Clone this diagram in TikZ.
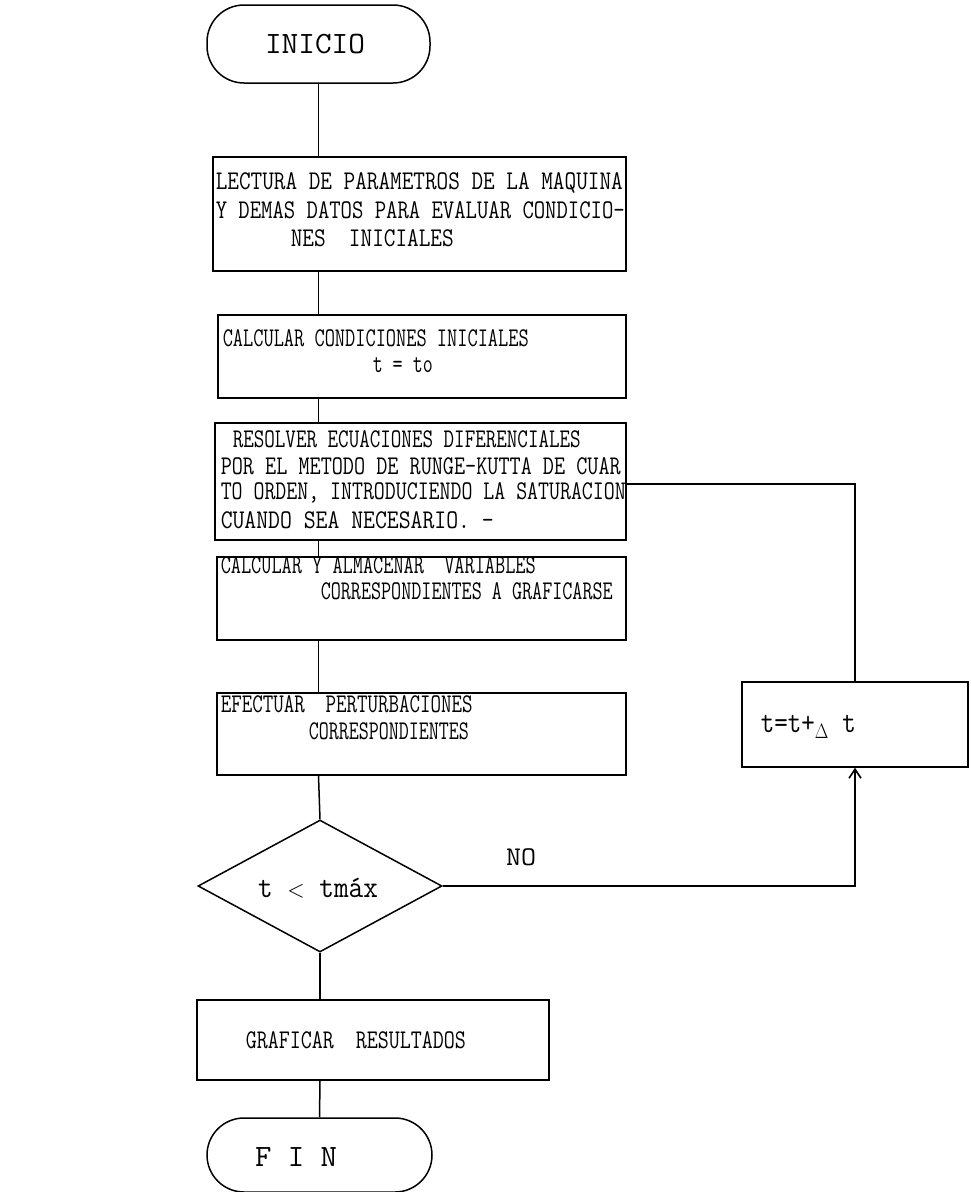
\documentclass[tikz,border=0pt]{standalone}
\usetikzlibrary{shapes.geometric,arrows.meta}
\usepackage{graphicx}
\newcommand\fitline[2]{\resizebox{#1pt}{\height}{#2}}
\begin{document}
\begin{tikzpicture}[x=1pt,y=-1pt,
  line width=1.5pt,
  txt/.style={font=\fontsize{27}{30}\selectfont\ttfamily,inner sep=0pt,anchor=west},
  bigtxt/.style={font=\fontsize{31}{34}\selectfont\ttfamily,inner sep=0pt},
  boxnode/.style={draw,line width=1.5pt,inner sep=0pt},
  term/.style={draw,line width=1.5pt,inner sep=0pt,rounded corners=37pt},
  decision/.style={draw,line width=1.5pt,diamond,inner sep=0pt},
  conn/.style={line width=1.5pt},
  arr/.style={line width=1.5pt,-{Straight Barb[length=9pt,width=12pt,line width=1.6pt]}}]
\useasboundingbox (0,0) rectangle (970,1192);
% terminals
\node[term,minimum width=223pt,minimum height=78pt] (ini) at (318.5,44) {};
\node[bigtxt] (tini) at (315,44) {\fitline{100}{INICIO}};
\node[term,minimum width=225pt,minimum height=74pt] (fin) at (319.5,1155) {};
\node[bigtxt] (tfin) at (296,1157) {\fitline{82}{F I N}};
% boxes
\node[boxnode,minimum width=413pt,minimum height=114pt] (b1) at (419.5,214) {};
\node[txt] (t1a) at (215,183) {\fitline{407}{LECTURA DE PARAMETROS DE LA MAQUINA}};
\node[txt] (t1b) at (215,210) {\fitline{409}{Y DEMAS DATOS PARA EVALUAR CONDICIO-}};
\node[txt] (t1c) at (290,238) {\fitline{163}{NES\ \ INICIALES}};
\node[boxnode,minimum width=408pt,minimum height=83pt] (b2) at (422,356.5) {};
\node[txt] (t2a) at (222,338) {\fitline{306}{CALCULAR CONDICIONES INICIALES}};
\node[txt] (t2b) at (372,365) {\fitline{60}{t = to}};
\node[boxnode,minimum width=411pt,minimum height=117pt] (b3) at (420.5,481.5) {};
\node[txt] (t3a) at (232,439) {\fitline{348}{RESOLVER ECUACIONES DIFERENCIALES}};
\node[txt] (t3b) at (220,466) {\fitline{400}{POR EL METODO DE RUNGE-KUTTA DE CUAR}};
\node[txt] (t3c) at (220,493) {\fitline{405}{TO ORDEN, INTRODUCIENDO LA SATURACION}};
\node[txt] (t3d) at (220,520) {\fitline{273}{CUANDO SEA NECESARIO. -}};
\node[boxnode,minimum width=409pt,minimum height=83pt] (b4) at (421.5,598.5) {};
\node[txt] (t4a) at (220,565) {\fitline{315}{CALCULAR Y ALMACENAR\ \ VARIABLES}};
\node[txt] (t4b) at (320,591) {\fitline{292}{CORRESPONDIENTES A GRAFICARSE}};
\node[boxnode,minimum width=409pt,minimum height=82pt] (b5) at (421.5,734) {};
\node[txt] (t5a) at (220,704) {\fitline{252}{EFECTUAR\ \ PERTURBACIONES}};
\node[txt] (t5b) at (308,731) {\fitline{160}{CORRESPONDIENTES}};
\node[decision,minimum width=244pt,minimum height=132pt] (dec) at (320,886) {};
\node[bigtxt] (tdec) at (318,888) {\fitline{120}{t $<$ tm\'ax}};
\node[boxnode,minimum width=226pt,minimum height=85pt] (bt) at (855,724.5) {};
\node[bigtxt,anchor=west] (tbt) at (760,727) {\fitline{95}{t=t+$_{\Delta}$ t}};
\node[boxnode,minimum width=352pt,minimum height=80pt] (bg) at (373,1040) {};
\node[txt] (tbg) at (245,1040) {\fitline{220}{GRAFICAR\ \ RESULTADOS}};
\node[txt,anchor=center] (tno) at (521,857) {\fitline{30}{NO}};
% connectors
\draw[conn] (ini.south) -- (ini.south |- b1.north);
\draw[conn] (ini.south |- b1.south) -- (ini.south |- b2.north);
\draw[conn] (ini.south |- b2.south) -- (ini.south |- b3.north);
\draw[conn] (ini.south |- b3.south) -- (ini.south |- b4.north);
\draw[conn] (ini.south |- b4.south) -- (ini.south |- b5.north);
\draw[conn] (ini.south |- b5.south) -- (dec.north);
\draw[conn] (dec.south) -- (dec.south |- bg.north);
\draw[conn] (dec.south |- bg.south) -- (fin.north);
\coordinate (loopR) at (855,484);
\draw[conn] (b3.east |- loopR) -- (loopR) -- (bt.north);
\draw[arr] (dec.east) -- (dec.east -| bt.south) -- (bt.south);
\end{tikzpicture}
\end{document}
